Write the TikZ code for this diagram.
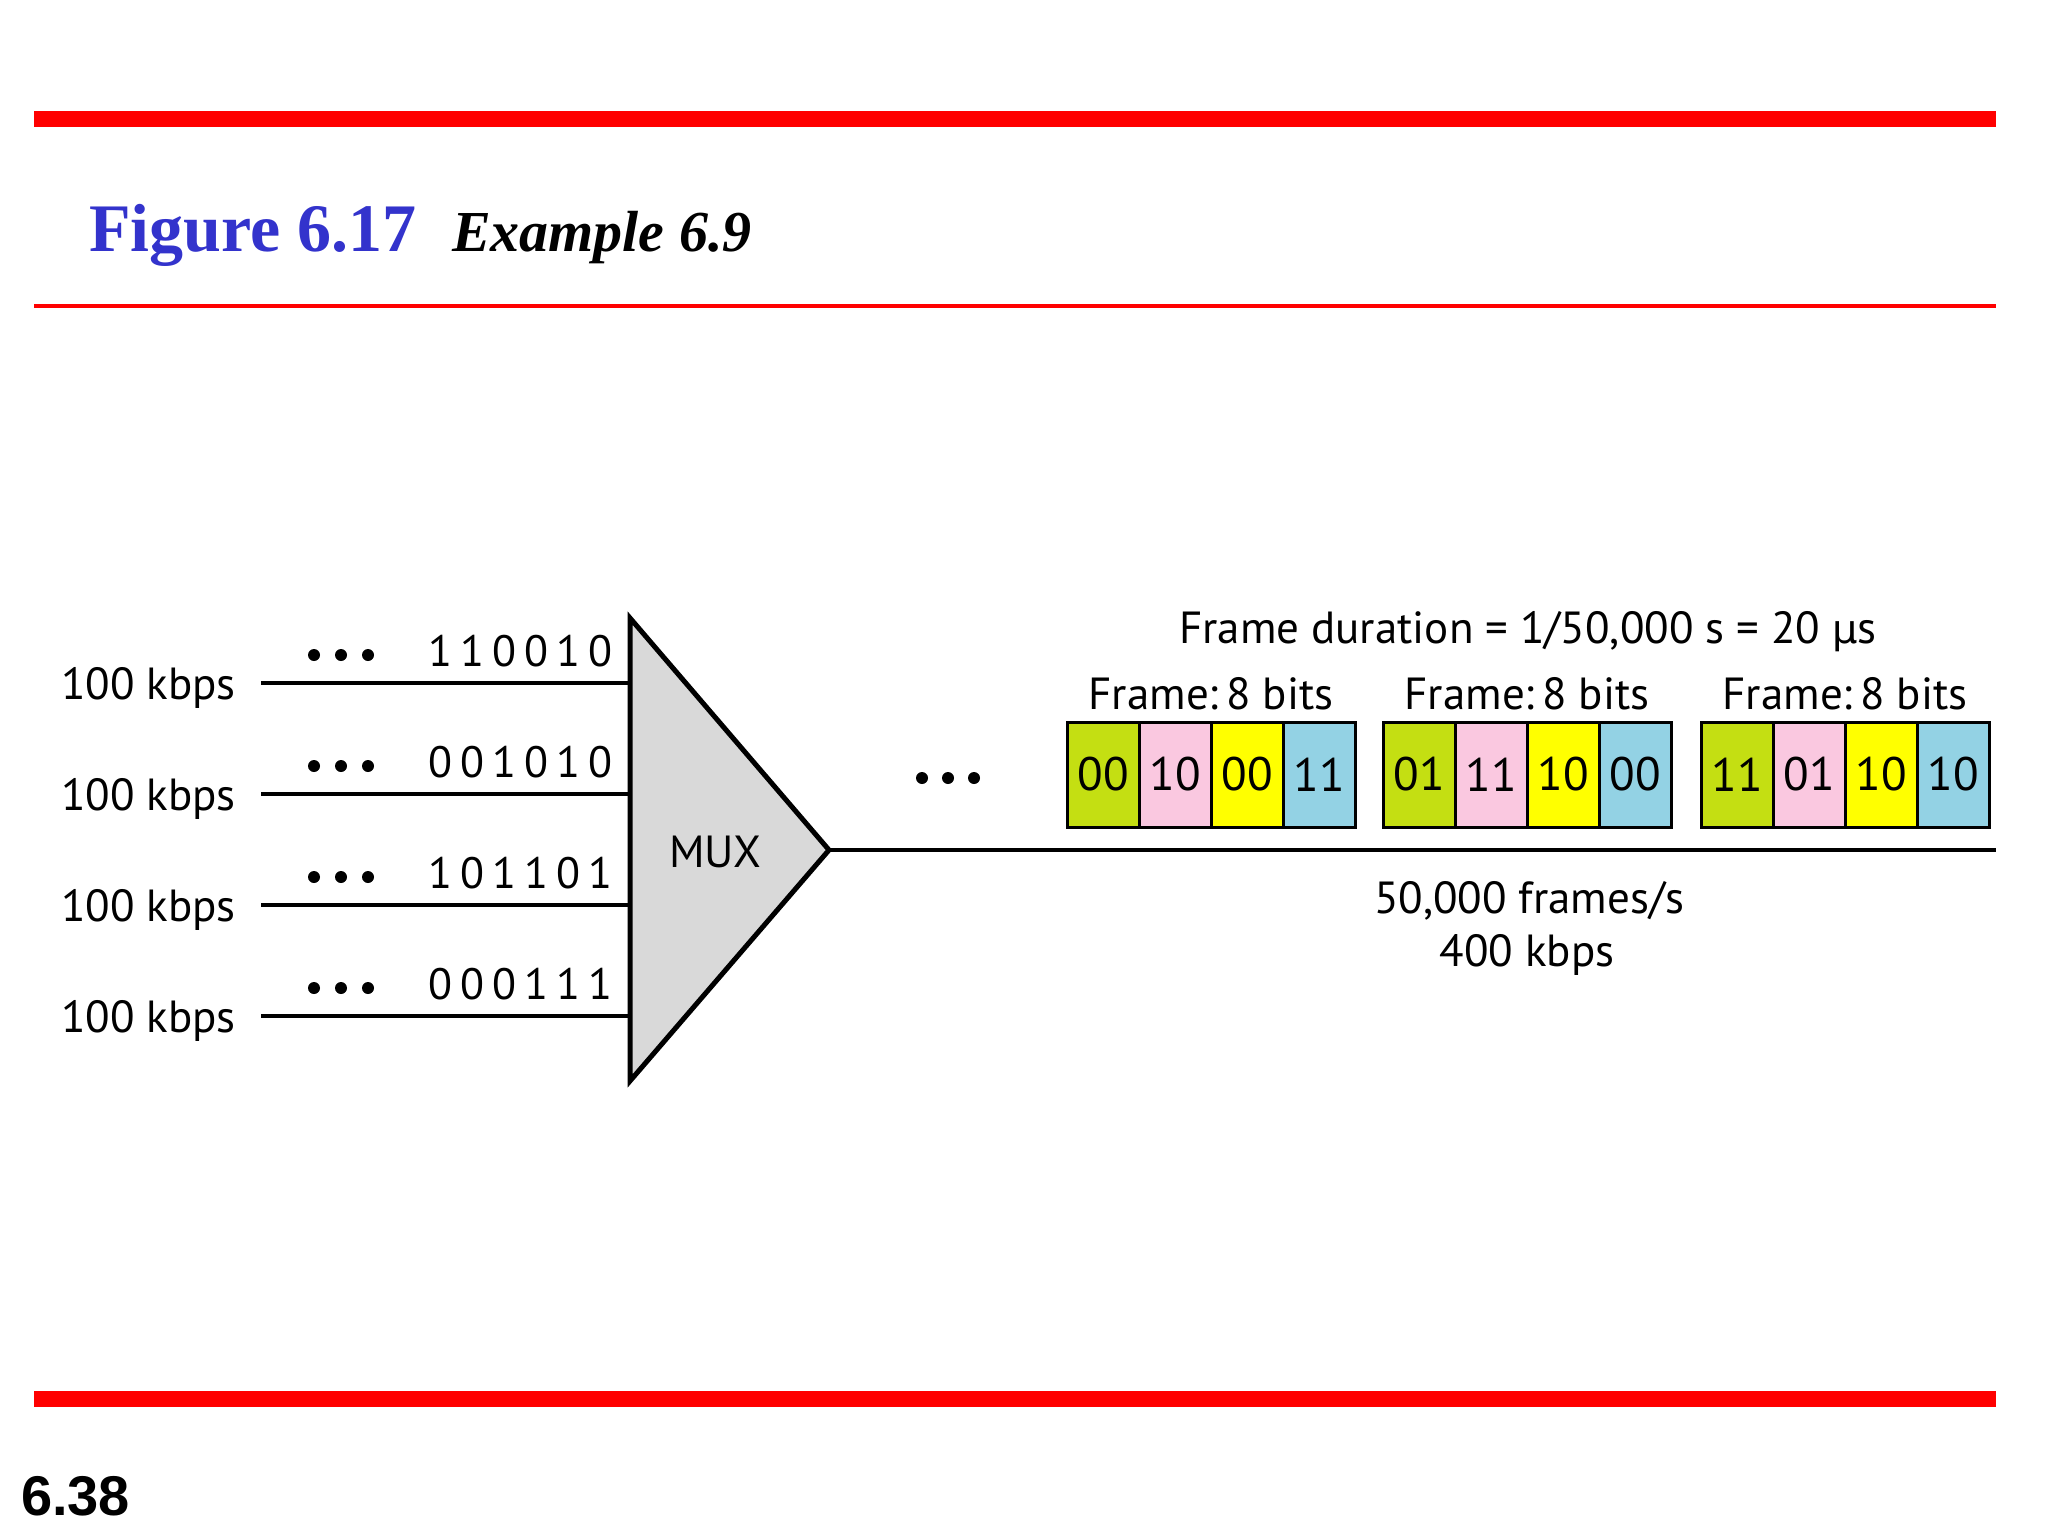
\documentclass[tikz,border=0pt]{standalone}
\usepackage{fontspec}
\setmainfont{PT Sans}
\newfontfamily\titlefont{Liberation Serif}
\newfontfamily\numfont{Liberation Sans}
\newfontfamily\spacedfont[LetterSpace=18]{PT Sans}
\definecolor{redbar}{RGB}{255,0,0}
\definecolor{titleblue}{RGB}{51,51,204}
\definecolor{cgreen}{RGB}{196,223,18}
\definecolor{cpink}{RGB}{250,200,224}
\definecolor{cyellow}{RGB}{255,255,0}
\definecolor{cblue}{RGB}{147,210,228}
\definecolor{muxgray}{RGB}{217,217,217}
\begin{document}
\begin{tikzpicture}[x=1pt,y=-1pt,
  every node/.style={inner sep=0pt,outer sep=0pt},
  lbl/.style={font=\fontsize{45}{50}\selectfont},
  bits/.style={font=\spacedfont\fontsize{44}{50}\selectfont},
  wire/.style={line width=4pt},
  dotc/.style={fill=black},
  cell/.style={draw=black,line width=3pt,minimum width=72pt,minimum height=105pt,anchor=north west,font=\fontsize{47}{50}\selectfont}]
\useasboundingbox (0,0) rectangle (2048,1536);
% bars
\fill[redbar] (34,111) rectangle (1996,127);
\fill[redbar] (34,304) rectangle (1996,308);
\fill[redbar] (34,1391) rectangle (1996,1407);
% title
\node[anchor=base west,text=titleblue,font=\titlefont\bfseries\fontsize{68}{70}\selectfont] (t1) at (89,251) {Figure 6.17};
\node[anchor=base west,font=\titlefont\bfseries\itshape\fontsize{58}{60}\selectfont] (t2) at (452,251) {Example 6.9};
\node[anchor=base west,font=\numfont\bfseries\fontsize{56}{60}\selectfont] (pg) at (21,1515) {6.38};
% mux
\coordinate (mt) at (630,618);
\coordinate (mb) at (630,1081);
\coordinate (ma) at (829,850);
\filldraw[fill=muxgray,draw=black,line width=5pt,line join=miter] (mt) -- (ma) -- (mb) -- cycle;
\node[anchor=base west,lbl] (mux) at (669,867) {MUX};
% inputs
\foreach \i/\y/\b in {1/683/110010,2/794/001010,3/905/101101,4/1016/000111}{
  \coordinate (s\i) at (261,\y);
  \coordinate (e\i) at (630,\y);
  \draw[wire] (s\i) -- (e\i);
  \node[anchor=base west,lbl] (r\i) at (61,\y+16) {100 kbps};
  \node[anchor=base east,bits] (b\i) at (612,\y-17) {\b};
  \foreach \x in {314,341,368}{\fill[dotc] (\x,\y-28) circle (6);}
}
% output
\coordinate (oend) at (1996,850);
\draw[wire] (ma) -- (oend);
\foreach \x in {922,948,974}{\fill[dotc] (\x,778) circle (6);}
% frames
\node[anchor=base,lbl] (fd) at (1528,643) {Frame duration = 1/50,000 s = 20 {\fontspec{DejaVu Sans}\fontsize{40}{44}\selectfont µ}s};
\foreach \f/\x/\a/\b/\c/\d in {1/1067/00/10/00/11,2/1383/01/11/10/00,3/1701/11/01/10/10}{
  \node[cell,fill=cgreen] (c\f a) at (\x,722) {\a};
  \node[cell,fill=cpink] (c\f b) at (\x+72,722) {\b};
  \node[cell,fill=cyellow] (c\f c) at (\x+144,722) {\c};
  \node[cell,fill=cblue] (c\f d) at (\x+216,722) {\d};
  \node[anchor=base,lbl] (fl\f) at (\x+144,709) {Frame:\,8 bits};
}
\node[anchor=base,lbl] (fps) at (1529,913) {50,000 frames/s};
\node[anchor=base,lbl] (kb) at (1527,966) {400 kbps};
\end{tikzpicture}
\end{document}
